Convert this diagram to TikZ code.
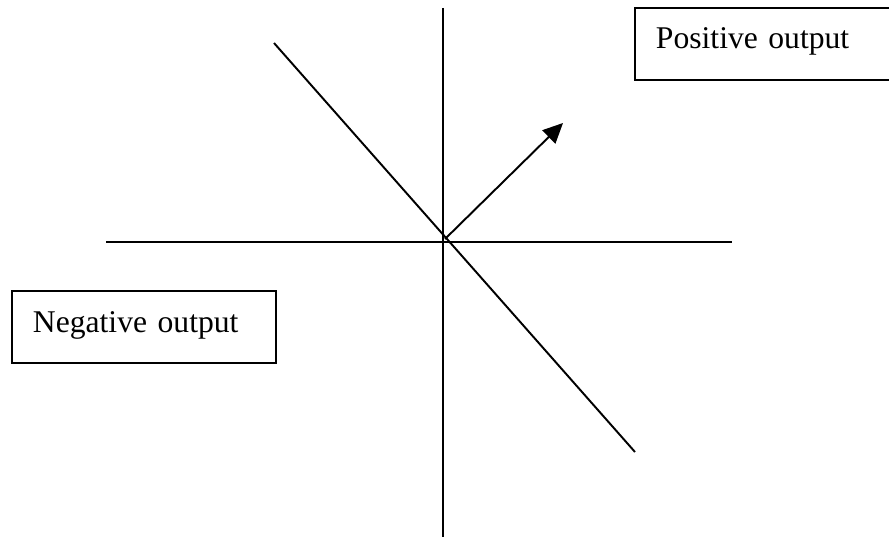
\documentclass[tikz,border=0pt]{standalone}
\usepackage{fontspec}
\setmainfont{Liberation Serif}
\usetikzlibrary{arrows.meta,positioning}

\tikzset{
  axisline/.style={line width=1.1pt},
  outbox/.style={draw,line width=1.1pt,inner ysep=0pt,inner xsep=.42cm,align=left,
    font=\fontsize{18}{22}\selectfont,anchor=north west}
}

\begin{document}
\begin{tikzpicture}[x=0.02cm,y=-0.02cm,>={Triangle[length=.4cm,width=.37cm]}]
% pixel grid of the picture, y running down
\useasboundingbox (0,0) rectangle (889,537);
\coordinate (ytop) at (443,8);
\coordinate (ybot) at (443,537);
\coordinate (xleft) at (106,242);
\coordinate (xright) at (732,242);
\coordinate (dtop) at (274,43);
\coordinate (dbot) at (635,452);
\coordinate (vstart) at (445,239);
\coordinate (vtip) at (563,123);
\draw[axisline] (ytop) -- (ybot);
\draw[axisline] (xleft) -- (xright);
\draw[axisline] (dtop) -- (dbot);
\draw[axisline,->] (vstart) -- (vtip);
\node[outbox,text width=5cm,text height=.82cm,text depth=.62cm] (posout) at (634,7) {Positive output};
\node[outbox,text width=4.44cm,text height=.84cm,text depth=.6cm] (negout) at (11,290) {Negative output};
\end{tikzpicture}
\end{document}
